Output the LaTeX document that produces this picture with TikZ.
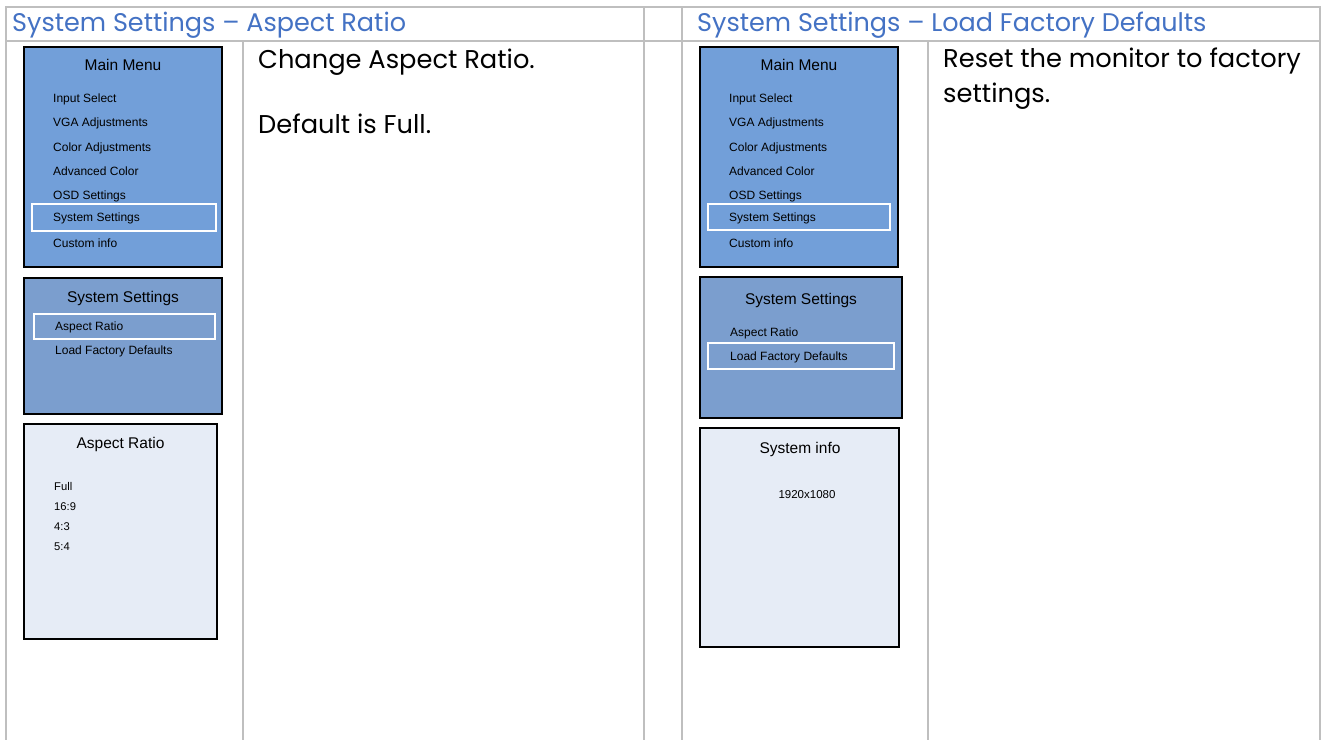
\documentclass[tikz,border=0pt]{standalone}
\usepackage{fontspec}
\setmainfont{Poppins}
\newfontfamily\osdfont{Liberation Sans}
\usetikzlibrary{positioning}

\definecolor{gridgray}{RGB}{191,191,191}
\definecolor{headblue}{RGB}{68,114,196}
\definecolor{menublue}{RGB}{114,159,217}
\definecolor{subblue}{RGB}{123,158,206}
\definecolor{infofill}{RGB}{230,236,246}

\begin{document}
\begin{tikzpicture}[x=1pt,y=-1pt,
    grid/.style={draw=gridgray, line width=1.5pt},
    osdbox/.style={draw=black, line width=2.4pt},
    pick/.style={draw=white, line width=2.4pt},
    osdtitle/.style={font=\osdfont\fontsize{15.5}{18}\selectfont, anchor=base, inner sep=0pt},
    osditem/.style={font=\osdfont\fontsize{12}{14}\selectfont, anchor=base west, inner sep=0pt},
    headtext/.style={font=\fontsize{25.5}{30}\selectfont, text=headblue, anchor=base west, inner sep=0pt},
    bodytext/.style={font=\fontsize{25.7}{30}\selectfont, anchor=base west, inner sep=0pt}]
  \useasboundingbox[fill=white] (0,0) rectangle (1322,740);

  % table
  \draw[grid] (5,7) -- (1321,7);
  \draw[grid] (5,41) -- (1321,41);
  \foreach \x in {6,644,682,1320}
    \draw[grid] (\x,7) -- (\x,740);
  \foreach \x in {243,928}
    \draw[grid] (\x,41) -- (\x,740);

  \node[headtext] (headl) at (12,31) {System Settings – Aspect Ratio};
  \node[headtext] (headr) at (697,31) {System Settings – Load Factory Defaults};

  % main menu, same on both sides
  \foreach \dx/\side in {0/l,676/r} {
    \filldraw[osdbox, fill=menublue] (24+\dx,47) rectangle (222+\dx,267);
    \node[osdtitle] (main\side) at (123+\dx,70.5) {Main Menu};
    \foreach \y/\txt [count=\i] in {102/Input Select, 126/VGA Adjustments,
        151/Color Adjustments, 175/Advanced Color, 199/OSD Settings,
        221/System Settings, 247/Custom info}
      \node[osditem] (main\side\i) at (53+\dx,\y) {\txt};
  }
  \draw[pick] (32,204) rectangle (216,231);
  \draw[pick] (708,204) rectangle (890,230);

  % left: system settings / aspect ratio
  \filldraw[osdbox, fill=subblue] (24,278) rectangle (222,414);
  \node[osdtitle] (subl) at (123,302.5) {System Settings};
  \node[osditem] (subl1) at (55,330.3) {Aspect Ratio};
  \node[osditem] (subl2) at (55,354.3) {Load Factory Defaults};
  \draw[pick] (34,314) rectangle (215,339);

  \filldraw[osdbox, fill=infofill] (24,424) rectangle (217,639);
  \node[osdtitle] (infol) at (120.5,448.5) {Aspect Ratio};
  \foreach \y/\txt [count=\i] in {490.3/Full, 510.3/16:9, 530.3/4:3, 550.3/5:4}
    \node[osditem, font=\osdfont\fontsize{11.2}{13}\selectfont] (infol\i) at (54,\y) {\txt};

  \node[bodytext] (textl1) at (258,68) {Change Aspect Ratio.};
  \node[bodytext] (textl2) at (258,133) {Default is Full.};

  % right: system settings / load factory defaults
  \filldraw[osdbox, fill=subblue] (700,277) rectangle (902,418);
  \node[osdtitle] (subr) at (801,304.5) {System Settings};
  \node[osditem] (subr1) at (730,336) {Aspect Ratio};
  \node[osditem] (subr2) at (730,360) {Load Factory Defaults};
  \draw[pick] (708,343) rectangle (894,369);

  \filldraw[osdbox, fill=infofill] (700,428) rectangle (899,647);
  \node[osdtitle] (infor) at (800,453.5) {System info};
  \node[osdtitle, font=\osdfont\fontsize{11.5}{13}\selectfont] (infor1) at (807,498) {1920x1080};

  \node[bodytext] (textr1) at (943,67) {Reset the monitor to factory};
  \node[bodytext] (textr2) at (943,102) {settings.};
\end{tikzpicture}
\end{document}
